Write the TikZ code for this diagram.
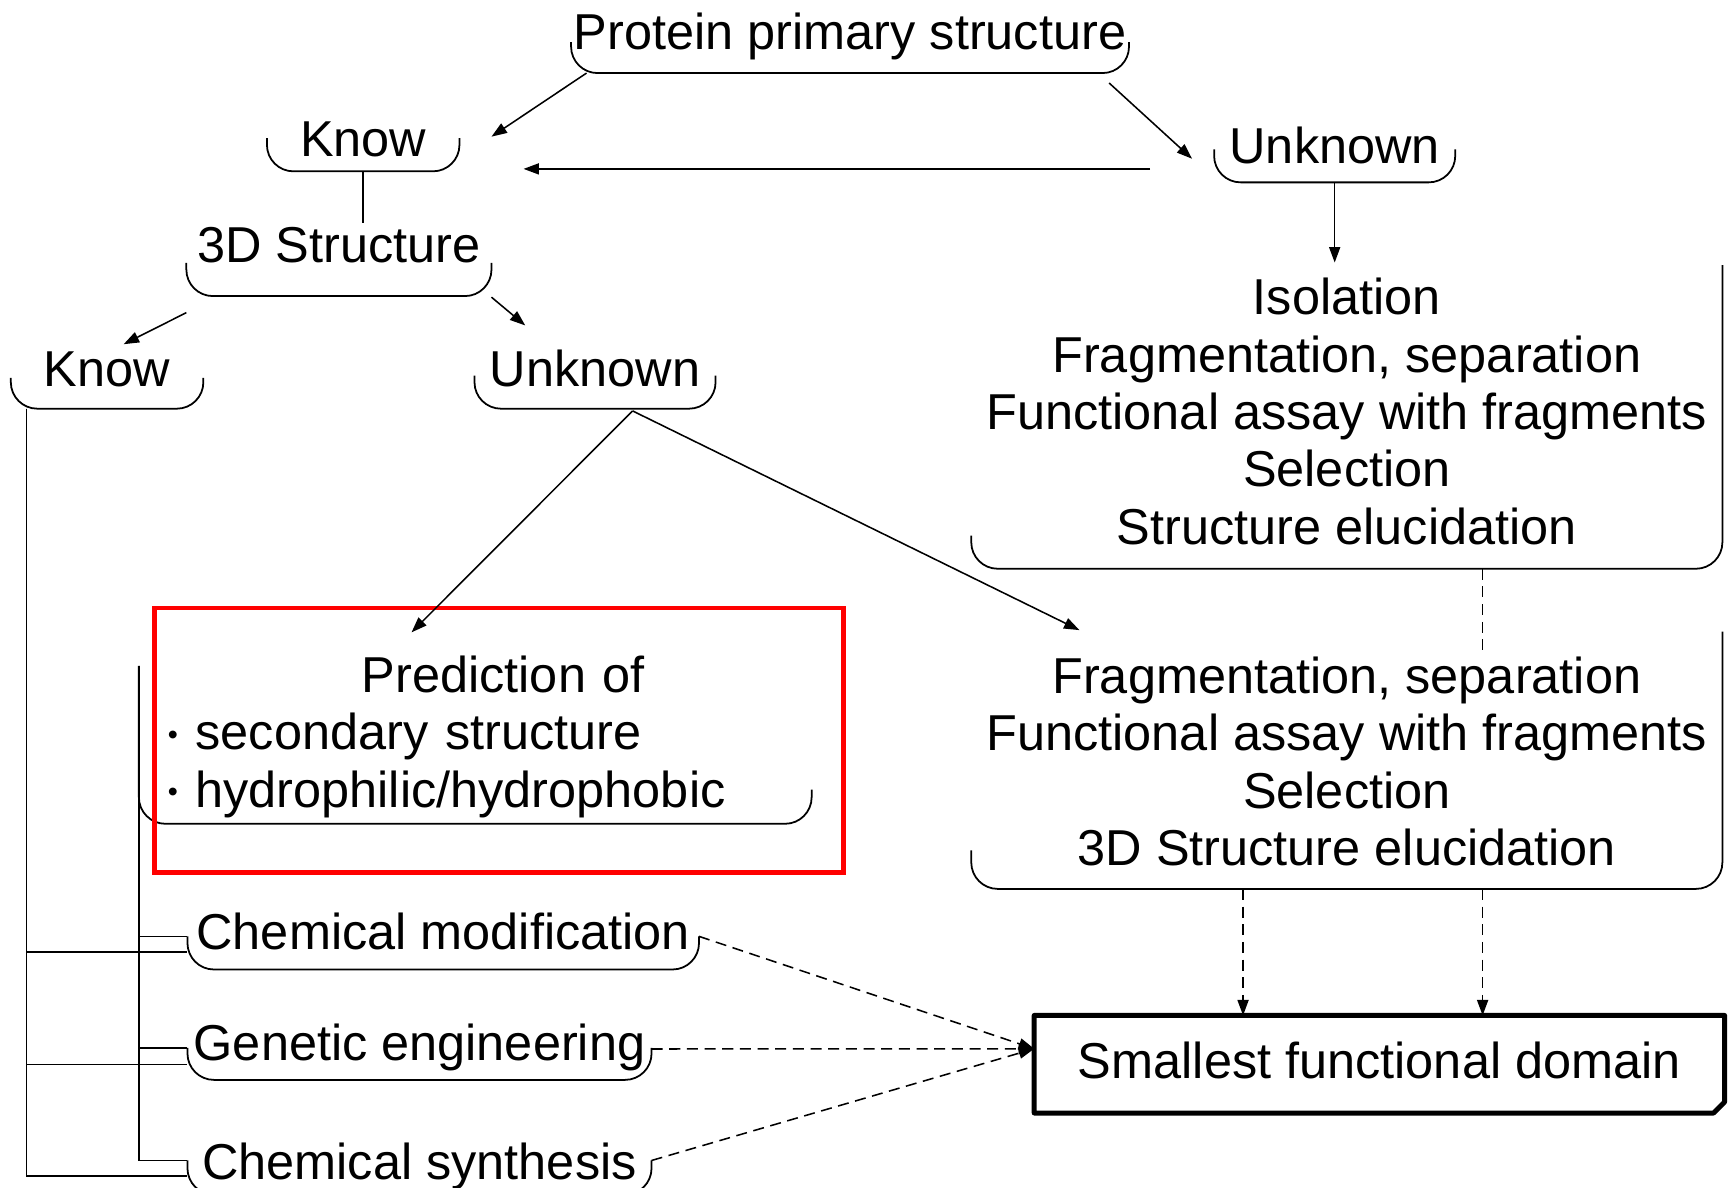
\documentclass[tikz,border=0pt]{standalone}
\usepackage{fontspec}
\setmainfont{Liberation Sans}
\usetikzlibrary{arrows.meta}
\newcommand{\chartfont}{\fontsize{45.7}{52}\selectfont}
\newcommand{\dotitem}{\raisebox{5pt}{\fontsize{26}{26}\selectfont\textbullet}\hspace{16pt}}
\begin{document}
\begin{tikzpicture}[x=1pt,y=-1pt,
	font=\chartfont,
	lbl/.style={inner sep=0pt,text height=36pt,anchor=base},
	cupline/.style={line width=1.6pt,rounded corners=24pt},
	plainline/.style={line width=1.4pt},
	arr/.style={line width=1.4pt,-{Triangle[length=14pt,width=10pt]}},
	dashline/.style={line width=1.4pt,dash pattern=on 10pt off 6pt},
	hilite/.style={draw=red,line width=4pt}]
\useasboundingbox (0,0) rectangle (1568,1076);

\node[lbl,minimum width=505pt,text depth=21pt] (prot) at (770,45) {Protein primary structure};
\node[lbl,minimum width=174pt,text depth=13pt] (knowA) at (329,142) {Know};
\node[lbl,minimum width=218pt,text depth=17pt] (unkA) at (1209,148) {Unknown};
\node[lbl,minimum width=276pt,text depth=30pt] (struct) at (307,238) {3D Structure};
\node[lbl,minimum width=174pt,text depth=20pt] (knowB) at (97,350) {Know};
\node[lbl,minimum width=218pt,text depth=20pt] (unkB) at (539,350) {Unknown};
\node[lbl,minimum width=680pt,text height=244pt,text depth=22pt,align=center] (iso) at (1220,493)
	{Isolation\\Fragmentation, separation\\Functional assay with fragments\\Selection\\Structure elucidation};
\node[lbl,minimum width=680pt,text height=192pt,text depth=21pt,align=center] (frag) at (1220,784)
	{Fragmentation, separation\\Functional assay with fragments\\Selection\\3D Structure elucidation};
\node[lbl,text width=608pt,text depth=119pt,align=left] (pred) at (456,627)
	{\makebox[\linewidth]{Prediction of}\\\dotitem secondary structure\\\dotitem hydrophilic/hydrophobic};
\node[lbl,minimum width=463pt,text depth=18pt] (chem) at (401.5,860) {Chemical modification};
\node[lbl,minimum width=420pt,text depth=17pt] (gene) at (380,961) {Genetic engineering};
\node[lbl,minimum width=420pt,text depth=14pt] (synth) at (380,1068) {Chemical synthesis};
\node[minimum width=625pt,minimum height=88pt,inner sep=0pt,text height=36pt,text depth=10pt] (dom) at (1249.5,964) {Smallest functional domain};

\foreach \n/\l/\r in {prot/28/28,knowA/30/30,unkA/30/30,struct/30/30,knowB/28/28,unkB/30/30,iso/30/275,frag/35/233,chem/30/30,gene/29/29,synth/31/31}
	\draw[cupline] ([yshift=\l pt]\n.south west) -- (\n.south west) -- (\n.south east) -- ([yshift=\r pt]\n.south east);
\draw[cupline] ([xshift=-26pt,yshift=143pt]pred.south west) -- ([xshift=-26pt]pred.south west) -- ([xshift=-25pt]pred.south east) -- ([xshift=-25pt,yshift=31pt]pred.south east);
\draw[hilite] ([xshift=-12pt,yshift=40pt]pred.north west) rectangle ([xshift=4pt,yshift=-44pt]pred.south east);
\draw[line width=4.5pt,line join=round] (dom.north west) -- (dom.north east) -- ([yshift=10pt]dom.south east) -- ([xshift=-10pt]dom.south east) -- (dom.south west) -- cycle;

\draw[arr] ([xshift=14pt]prot.south west) -- ([xshift=29pt,yshift=-18pt]knowA.north east);
\draw[arr] ([xshift=-18pt,yshift=-9pt]prot.south east) -- ([xshift=-20pt,yshift=-32pt]unkA.north west);
\draw[arr,shorten <=58pt,shorten >=58pt] (unkA.west |- 0,153) -- (knowA.east |- 0,153);
\draw[arr,shorten >=11pt] (unkA.south) -- (unkA.south |- iso.north);
\draw[plainline] (knowA.south) -- (knowA.south |- struct.north);
\draw[arr] ([yshift=-15pt]struct.south west) -- ([xshift=15pt,yshift=2pt]knowB.north);
\draw[arr] ([yshift=-1pt]struct.south east) -- ([xshift=46pt,yshift=19pt]unkB.north west);
\draw[arr] ([xshift=34pt,yshift=-2pt]unkB.south) -- ([xshift=221pt,yshift=18pt]pred.north west);
\draw[arr] ([xshift=34pt,yshift=-2pt]unkB.south) -- ([xshift=98pt,yshift=21pt]frag.north west);

\foreach \n/\h in {chem/30,gene/29,synth/31}
	\draw[plainline] ([xshift=-26pt,yshift=143pt]pred.south west) |- ([yshift=\h pt]\n.south west);
\foreach \n/\h in {chem/16,gene/14,synth/17}
	\draw[plainline] ([xshift=14pt]knowB.south west) |- ([yshift=\h pt]\n.south west);

\draw[dashline] ([xshift=123pt]iso.south) -- ([xshift=123pt]frag.north);
\draw[dashline,arr] ([xshift=-94pt]frag.south) -- ([xshift=-123.5pt]dom.north);
\draw[dashline,arr] ([xshift=123pt]frag.south) -- ([xshift=93.5pt]dom.north);
\draw[dashline,arr] ([yshift=30pt]chem.south east) -- ([yshift=14pt]dom.west);
\draw[dashline,arr] ([yshift=28pt]gene.south east) -- ([yshift=14pt]dom.west);
\draw[dashline,arr] ([yshift=31pt]synth.south east) -- ([yshift=14pt]dom.west);
\end{tikzpicture}
\end{document}
